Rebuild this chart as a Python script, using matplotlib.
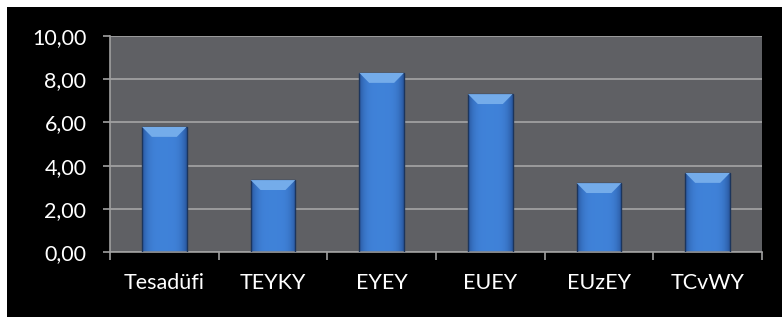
import matplotlib.pyplot as plt
import numpy as np
from matplotlib.patches import Polygon
from matplotlib.ticker import FuncFormatter

categories = ['Tesadüfi', 'TEYKY', 'EYEY', 'EUEY', 'EUzEY', 'TCvWY']
values = [5.79, 3.33, 8.29, 7.31, 3.19, 3.66]
yticks = [0, 2, 4, 6, 8, 10]

plt.rcParams['font.family'] = ['Lato', 'DejaVu Sans']

fig = plt.figure(figsize=(7.82, 3.17), dpi=100, facecolor='white')
# black panel behind the chart (white strip at top/left as in the screenshot)
fig.patches.append(plt.Rectangle((7 / 782, 0), 1, 1 - 7 / 317, transform=fig.transFigure,
                                 facecolor='black', edgecolor='none', zorder=-10))
ax = fig.add_axes([110 / 782, 1 - 252 / 317, (762 - 110) / 782, (252 - 36) / 317])
ax.set_facecolor('#5f6064')

x = np.arange(len(categories))
w = 0.41
ax.set_xlim(-0.5, len(categories) - 0.5)
ax.set_ylim(0, 10)

ax.set_yticks(yticks)
ax.yaxis.set_major_formatter(FuncFormatter(lambda v, p: f'{v:.2f}'.replace('.', ',')))
ax.grid(axis='y', color='#a0a0a0', linewidth=1.3, zorder=1)
ax.set_axisbelow(True)

# horizontal gradient for the bars
grad = np.linspace(0, 1, 64)
prof = 1 - (2 * grad - 1) ** 4
cols = np.zeros((1, 64, 3))
edge = np.array([0.16, 0.34, 0.62])
mid = np.array([0.25, 0.51, 0.85])
cols[0, :, :] = edge[None, :] + (mid - edge)[None, :] * prof[:, None]

bars = ax.bar(x, values, width=w, color='none', edgecolor='#1c355c', linewidth=1.0, zorder=3)
for b in bars:
    x0, y0 = b.get_x(), b.get_y()
    bw, bh = b.get_width(), b.get_height()
    im = ax.imshow(cols, extent=[x0, x0 + bw, y0, y0 + bh], aspect='auto', zorder=2, origin='lower')
    im.set_clip_path(b)
    # bevel on top
    dy = 0.46
    dx = bw * 0.22
    ax.add_patch(Polygon([(x0, y0 + bh), (x0 + bw, y0 + bh), (x0 + bw - dx, y0 + bh - dy),
                          (x0 + dx, y0 + bh - dy)], closed=True,
                         facecolor='#74acea', edgecolor='none', zorder=3.5))

ax.set_xticks(np.arange(len(categories) + 1) - 0.5, minor=False)
ax.set_xticklabels([])
ax.set_xticks(x, minor=True)
ax.set_xticklabels(categories, minor=True)
ax.tick_params(axis='x', which='minor', length=0, pad=15, labelsize=15.5, labelcolor='white')
ax.tick_params(axis='x', which='major', length=6, color='#a0a0a0', width=1.2)
ax.tick_params(axis='y', length=5, color='#a0a0a0', width=1.2, labelsize=15.5, labelcolor='white', pad=12)

for s in ['top', 'right']:
    ax.spines[s].set_visible(False)
for s in ['left', 'bottom']:
    ax.spines[s].set_color('#a0a0a0')
    ax.spines[s].set_linewidth(1.2)

plt.savefig('out.png', dpi=100, facecolor='white')
